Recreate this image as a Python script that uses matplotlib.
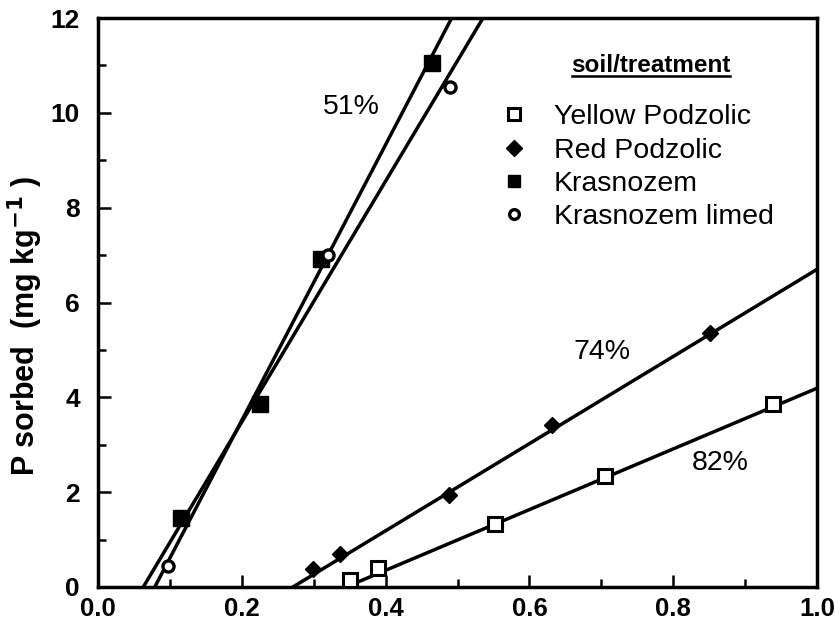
import numpy as np
import matplotlib.pyplot as plt
from matplotlib.lines import Line2D

plt.rcParams['font.family'] = ['Liberation Sans', 'DejaVu Sans']

# measured points, x vs P sorbed
yellow_x = [0.35, 0.39, 0.552, 0.705, 0.939]
yellow_y = [0.15, 0.40, 1.33, 2.34, 3.86]
red_x = [0.299, 0.337, 0.488, 0.631, 0.851]
red_y = [0.38, 0.70, 1.95, 3.42, 5.36]
kras_x = [0.115, 0.225, 0.31, 0.465]
kras_y = [1.45, 3.85, 6.92, 11.05]
limed_x = [0.097, 0.32, 0.49]
limed_y = [0.45, 7.0, 10.55]

# fitted lines: x-intercept and slope
yellow_fit = (0.345, 6.4)
red_fit = (0.271, 9.19)
kras_fit = (0.079, 29.06)
limed_fit = (0.063, 25.4)

pct_labels = ['51%', '74%', '82%']
pct_x = [0.352, 0.701, 0.865]
pct_y = [10.13, 4.96, 2.62]

names = ['Yellow Podzolic', 'Red Podzolic', 'Krasnozem', 'Krasnozem limed']

fig = plt.figure(figsize=(8.39, 6.25), dpi=100)
ax = fig.add_axes([0.1168, 0.0608, 0.857, 0.9104])

def fit_line(fit, x_end):
    x0, m = fit
    xs = np.array([x0, x_end])
    return xs, m * (xs - x0)

for fit in [yellow_fit, red_fit]:
    xs, ys = fit_line(fit, 1.0)
    ax.plot(xs, ys, color='black', lw=2.5, zorder=2)
for fit in [kras_fit, limed_fit]:
    xs, ys = fit_line(fit, fit[0] + 12.5 / fit[1])
    ax.plot(xs, ys, color='black', lw=2.5, zorder=2)

ax.plot(yellow_x, yellow_y, 's', ms=10, mfc='white', mec='black', mew=2.2, ls='none', zorder=3)
ax.plot(red_x, red_y, 'D', ms=8.5, mfc='black', mec='black', ls='none', zorder=3)
ax.plot(kras_x, kras_y, 's', ms=11, mfc='black', mec='black', ls='none', zorder=3)
ax.plot(limed_x, limed_y, 'o', ms=8, mfc='white', mec='black', mew=2.4, ls='none', zorder=3)

for t, x, y in zip(pct_labels, pct_x, pct_y):
    ax.text(x, y, t, fontsize=20.5, ha='center', va='center')

handles = [
    Line2D([], [], marker='s', ms=9, mfc='white', mec='black', mew=2.2, ls='none'),
    Line2D([], [], marker='D', ms=8, mfc='black', mec='black', ls='none'),
    Line2D([], [], marker='s', ms=9, mfc='black', mec='black', ls='none'),
    Line2D([], [], marker='o', ms=7, mfc='white', mec='black', mew=2.4, ls='none'),
]
ax.legend(handles, names, loc='center left', bbox_to_anchor=(0.568, 0.738),
          frameon=False, fontsize=20.5, handlelength=0.5, handletextpad=1.16,
          labelspacing=0.25, borderaxespad=0, borderpad=0)
ax.text(0.769, 0.917, 'soil/treatment', transform=ax.transAxes, fontsize=17.5,
        fontweight='bold', ha='center', va='center')
ax.plot([0.659, 0.879], [0.898, 0.898], transform=ax.transAxes, color='black',
        lw=1.8, clip_on=False)

ax.set_xlim(0, 1.0)
ax.set_ylim(0, 12)
ax.set_xticks(np.arange(0, 1.01, 0.2))
ax.set_xticklabels(['0.0', '0.2', '0.4', '0.6', '0.8', '1.0'])
ax.set_xticks(np.arange(0.1, 1.0, 0.2), minor=True)
ax.set_yticks(range(0, 13, 2))
ax.set_yticks(range(1, 12, 2), minor=True)
ax.tick_params(which='both', direction='in', width=1.8)
ax.tick_params(which='major', length=9)
ax.tick_params(which='minor', length=6)
ax.tick_params(axis='x', pad=7, labelsize=18.5)
ax.tick_params(axis='y', pad=13, labelsize=19)
for lab in ax.get_xticklabels() + ax.get_yticklabels():
    lab.set_fontweight('bold')
for s in ax.spines.values():
    s.set_linewidth(2.5)

ax.set_ylabel('P sorbed  (mg kg$^{\\mathbf{-1}}$ )', fontsize=22, fontweight='bold')
ax.yaxis.set_label_coords(-0.074, 0.459)

fig.savefig('out.png', dpi=100)
